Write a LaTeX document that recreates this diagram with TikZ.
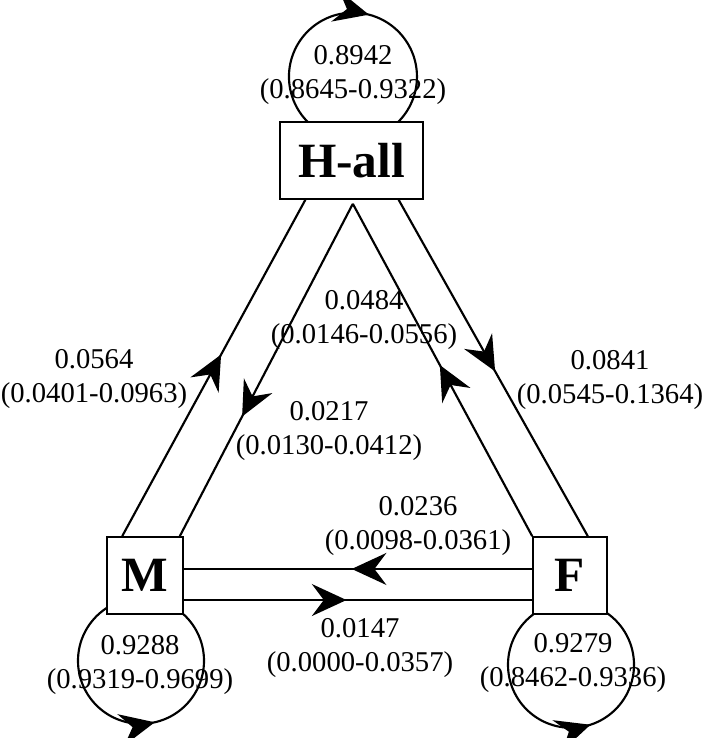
\documentclass[tikz,border=0pt]{standalone}
\usepackage{fontspec}
\setmainfont{Liberation Serif}
\usepackage{tikz}
\usetikzlibrary{arrows.meta, decorations.markings, backgrounds}

\begin{document}
\begin{tikzpicture}[
		x=0.75pt, y=0.75pt,
		line width=1.6pt,
		every node/.style={font=\fontsize{21.5}{26}\selectfont, align=center},
		state/.style={rectangle, draw, line width=1.2pt, fill=white, inner sep=0pt, minimum height=57.75pt, font=\bfseries\fontsize{37}{40}\selectfont},
		flow/.style={line width=1.6pt, postaction={decorate}, decoration={markings, mark=at position #1 with {\arrow{Stealth[length=26pt, width=24pt, inset=9pt]}}}}
	]
  \useasboundingbox (0, 0) rectangle (709, 738);
  \node (hall) [state, minimum width=107pt] at (351.5, 577.5) {H-all};
  \node (m) [state, minimum width=57pt] at (145, 162.5) {M};
  \node (f) [state, minimum width=55.5pt] at (570, 162.5) {F};
  \coordinate (apex) at ([xshift=1pt, yshift=-3pt]hall.south);
  \coordinate (hall_c) at ([xshift=1.1pt, yshift=33.4pt]hall.north);
  \coordinate (m_c) at ([xshift=-3pt, yshift=-34.5pt]m.south);
  \coordinate (f_c) at ([xshift=0.75pt, yshift=-37.5pt]f.south);
  \begin{scope}[on background layer]
    \draw [flow=0.79] ([xshift=48pt]hall_c) arc[start angle=0, end angle=-360, radius=64];
    \draw [flow=0.785] ([xshift=47.25pt]m_c) arc[start angle=0, end angle=360, radius=63];
    \draw [flow=0.80] ([xshift=47.25pt]f_c) arc[start angle=0, end angle=360, radius=63];
  \end{scope}
  \draw [flow=0.54] ([xshift=12pt]m.north west) -- ([xshift=19.5pt]hall.south west);
  \draw [flow=0.64] (apex) -- ([xshift=-3pt]m.north east);
  \draw [flow=0.515] (f.north west) -- (apex);
  \draw [flow=0.51] ([xshift=-18.75pt]hall.south east) -- ([xshift=-15pt]f.north east);
  \draw [flow=0.518] ([yshift=4.9pt]f.west) -- ([yshift=4.9pt]m.east);
  \draw [flow=0.467] ([yshift=-18.4pt]m.east) -- ([yshift=-18.4pt]f.west);
  \node (l_hh) at (353, 663) {0.8942\\(0.8645-0.9322)};
  \node (l_mh) at (94, 359) {0.0564\\(0.0401-0.0963)};
  \node (l_hf) at (610, 358) {0.0841\\(0.0545-0.1364)};
  \node (l_fh) at (364, 418) {0.0484\\(0.0146-0.0556)};
  \node (l_hm) at (329, 307) {0.0217\\(0.0130-0.0412)};
  \node (l_fm) at (418, 212) {0.0236\\(0.0098-0.0361)};
  \node (l_mf) at (360, 90) {0.0147\\(0.0000-0.0357)};
  \node (l_mm) at (140, 73) {0.9288\\(0.9319-0.9699)};
  \node (l_ff) at (573, 75) {0.9279\\(0.8462-0.9336)};
\end{tikzpicture}
\end{document}
